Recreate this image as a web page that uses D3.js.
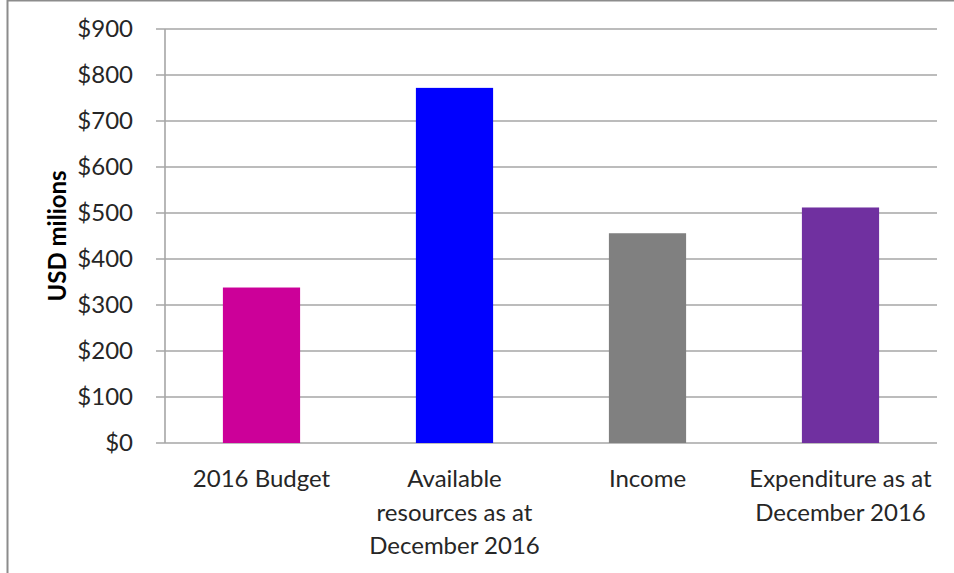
<!DOCTYPE html>
<html>
<head>
<meta charset="utf-8">
<script src="https://cdn.jsdelivr.net/npm/d3@7"></script>
<style>
  html, body { margin: 0; padding: 0; background: #fff; }
  svg text { font-family: Lato, "Open Sans", sans-serif; fill: #262626; }
</style>
</head>
<body>
<svg id="chart"></svg>
<script>
var categories = ['2016 Budget', 'Available resources as at December 2016', 'Income', 'Expenditure as at December 2016'];
var labelLines = [['2016 Budget'], ['Available', 'resources as at', 'December 2016'], ['Income'], ['Expenditure as at', 'December 2016']];
var values = [338, 772, 456, 512];
var colors = ['#cc0099', '#0000ff', '#808080', '#7030a0'];
var tickValues = [0, 100, 200, 300, 400, 500, 600, 700, 800, 900];

var width = 954;
var height = 573;
var plotLeft = 165, plotRight = 937, plotTop = 29, plotBottom = 443;

var svg = d3.select('#chart')
    .attr('width', width)
    .attr('height', height);

// chart frame (cropped on the right and bottom)
svg.append('path')
    .attr('d', 'M7.5,' + height + 'V0.5H' + width)
    .attr('fill', 'none')
    .attr('stroke', '#8c8c8c')
    .attr('stroke-width', 2);

var y = d3.scaleLinear().domain([0, 900]).range([plotBottom, plotTop]);
var x = d3.scaleBand().domain(categories).range([plotLeft, plotRight]).paddingInner(0.6).paddingOuter(0.3);

// gridlines
svg.append('g')
    .selectAll('line')
    .data(tickValues)
    .enter()
    .append('line')
    .attr('x1', plotLeft - 9)
    .attr('x2', plotRight)
    .attr('y1', function(d) { return y(d); })
    .attr('y2', function(d) { return y(d); })
    .attr('stroke', '#a6a6a6')
    .attr('stroke-width', 1.6);

// y axis line
svg.append('line')
    .attr('x1', plotLeft).attr('x2', plotLeft)
    .attr('y1', plotTop).attr('y2', plotBottom)
    .attr('stroke', '#a6a6a6')
    .attr('stroke-width', 1.6);

// tick labels
svg.append('g')
    .selectAll('text')
    .data(tickValues)
    .enter()
    .append('text')
    .attr('x', 133)
    .attr('y', function(d) { return y(d); })
    .attr('dy', '0.35em')
    .attr('text-anchor', 'end')
    .style('font-size', '24px')
    .text(function(d) { return '$' + d; });

// bars
svg.append('g')
    .selectAll('rect')
    .data(values)
    .enter()
    .append('rect')
    .attr('x', function(d, i) { return x(categories[i]); })
    .attr('width', x.bandwidth())
    .attr('y', function(d) { return y(d); })
    .attr('height', function(d) { return plotBottom - y(d); })
    .attr('fill', function(d, i) { return colors[i]; });

// category labels
var lab = svg.append('g')
    .selectAll('text')
    .data(labelLines)
    .enter()
    .append('text')
    .attr('text-anchor', 'middle')
    .style('font-size', '24px')
    .attr('transform', function(d, i) { return 'translate(' + (x(categories[i]) + x.bandwidth() / 2) + ',487)'; });

lab.selectAll('tspan')
    .data(function(d) { return d; })
    .enter()
    .append('tspan')
    .attr('x', 0)
    .attr('y', function(d, i) { return i * 33.5; })
    .text(function(d) { return d; });

// y axis title
svg.append('text')
    .attr('transform', 'translate(66,236) rotate(-90)')
    .attr('text-anchor', 'middle')
    .style('font-size', '24px')
    .style('font-weight', 'bold')
    .style('fill', '#000')
    .text('USD milions');
</script>
</body>
</html>
